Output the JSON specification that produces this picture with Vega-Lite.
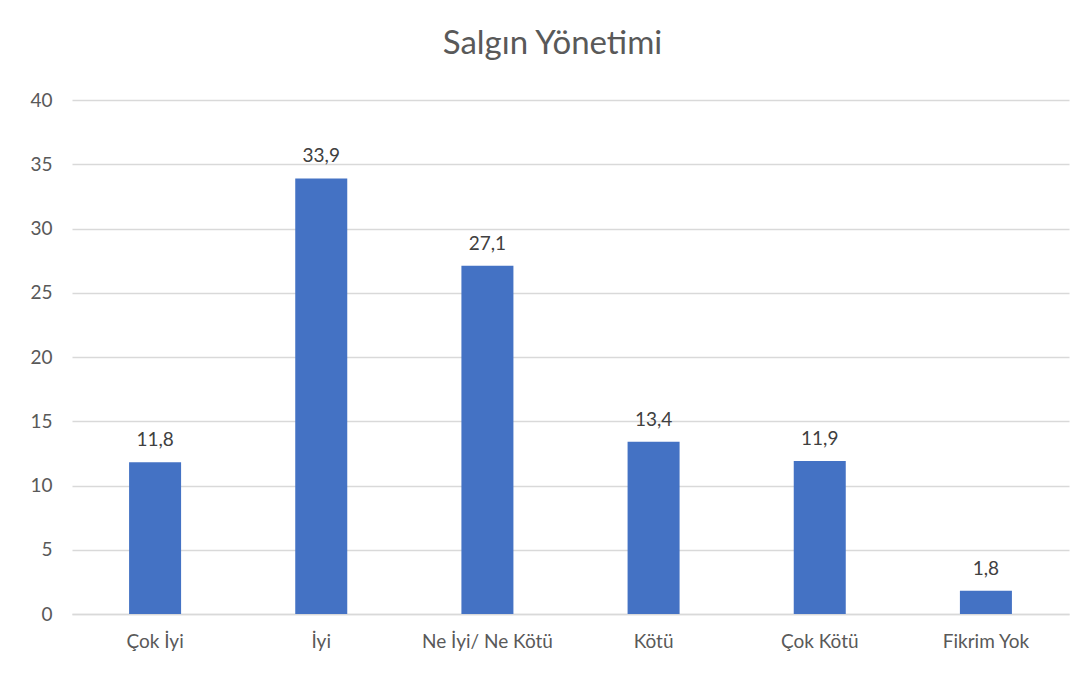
{
  "$schema": "https://vega.github.io/schema/vega-lite/v6.json",
  "width": 997,
  "height": 514,
  "autosize": {"type": "none"},
  "padding": {"left": 72, "top": 100, "right": 16, "bottom": 61},
  "background": "white",
  "title": {
    "text": "Salgın Yönetimi",
    "font": "Lato",
    "fontSize": 33,
    "fontWeight": "normal",
    "color": "#595959",
    "anchor": "middle",
    "baseline": "bottom",
    "offset": 37,
    "dy": 40,
    "dx": -18
  },
  "config": {
    "view": {"stroke": null},
    "font": "Lato"
  },
  "data": {
    "values": [
      {"kategori": "Çok İyi", "deger": 11.8, "etiket": "11,8"},
      {"kategori": "İyi", "deger": 33.9, "etiket": "33,9"},
      {"kategori": "Ne İyi/ Ne Kötü", "deger": 27.1, "etiket": "27,1"},
      {"kategori": "Kötü", "deger": 13.4, "etiket": "13,4"},
      {"kategori": "Çok Kötü", "deger": 11.9, "etiket": "11,9"},
      {"kategori": "Fikrim Yok", "deger": 1.8, "etiket": "1,8"}
    ]
  },
  "encoding": {
    "x": {
      "field": "kategori",
      "type": "nominal",
      "sort": null,
      "scale": {"paddingInner": 0.687, "paddingOuter": 0.3435},
      "axis": {
        "title": null,
        "labelAngle": 0,
        "labelFontSize": 19,
        "labelColor": "#595959",
        "labelPadding": 18,
        "ticks": false,
        "domainColor": "#d9d9d9",
        "domainWidth": 1.5
      }
    },
    "y": {
      "field": "deger",
      "type": "quantitative",
      "scale": {"domain": [0, 40], "nice": false},
      "axis": {
        "title": null,
        "values": [0, 5, 10, 15, 20, 25, 30, 35, 40],
        "labelFontSize": 19,
        "labelColor": "#595959",
        "labelPadding": 20,
        "ticks": false,
        "domain": false,
        "gridColor": "#d9d9d9",
        "gridWidth": 1.5
      }
    }
  },
  "layer": [
    {"mark": {"type": "bar", "color": "#4472C4"}},
    {
      "mark": {"type": "text", "baseline": "bottom", "dy": -12, "fontSize": 19, "color": "#404040"},
      "encoding": {"text": {"field": "etiket"}}
    }
  ]
}
